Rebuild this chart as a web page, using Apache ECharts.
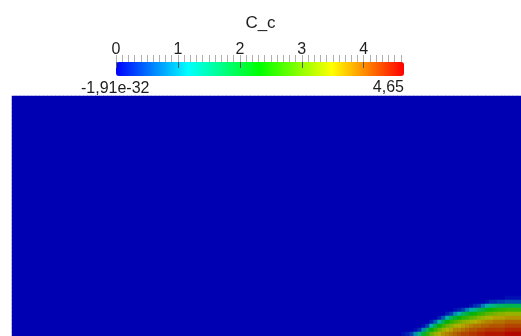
<!DOCTYPE html>
<html>
<head>
<meta charset="utf-8">
<script src="https://cdn.jsdelivr.net/npm/echarts@6/dist/echarts.min.js"></script>
<style>
html,body{margin:0;padding:0;background:#fff;}
#c{width:521px;height:336px;}
</style>
</head>
<body>
<div id="c"></div>
<script>
// ---- data ----
const colorbarTitle = 'C_c';
const rangeMin = -1.91e-32;
const rangeMax = 4.65;
const rangeLabels = ['-1,91e-32', '4,65'];
const majorTickStep = 1;
const lastMajorTick = 4;
const minorTickStep = 0.1;
const lastMinorTick = 4.6;
const colormap = ['#0000ff', '#00ffff', '#00ff00', '#ffff00', '#ff0000'];
const shadedColormap = ['#0000b3', '#00b3b3', '#00b300', '#b3b300', '#b30000'];
const fieldCols = 128;   // cells across the field
const fieldRows = 60;    // cells down the field
const plumeCol0 = 98;    // first column of the non-zero region
const plumeRow0 = 50;    // first row of the non-zero region
// C_c values in the bottom-right region (rows top->bottom, cols left->right); rest of field = 0
const plumeRows = [
  [0,0,0,0,0,0,0,0,0,0,0,0,0,0,0,0,0,0,0,0,0,0,0,0,0,0,0.1,0.1,0.1,0.1],
  [0,0,0,0,0,0,0,0,0,0,0,0,0,0,0,0,0,0,0,0,0,0.1,0.3,0.3,0.4,0.4,0.5,0.5,0.5,0.5],
  [0,0,0,0,0,0,0,0,0,0,0,0,0,0,0,0,0,0.1,0.3,0.4,0.8,1.1,1.4,1.5,1.7,1.7,1.8,1.8,1.8,1.8],
  [0,0,0,0,0,0,0,0,0,0,0,0,0,0.1,0.2,0.4,0.8,1.1,1.4,1.7,1.9,2.2,2.4,2.5,2.6,2.6,2.7,2.7,2.7,2.7],
  [0,0,0,0,0,0,0,0,0,0,0,0.2,0.4,0.9,1.2,1.7,1.9,2.2,2.4,2.6,2.7,2.9,3.0,3.1,3.2,3.2,3.3,3.3,3.3,3.3],
  [0,0,0,0,0,0,0,0,0,0.2,0.6,1.2,1.7,2.0,2.3,2.6,2.7,2.9,3.0,3.2,3.3,3.4,3.5,3.6,3.6,3.6,3.7,3.7,3.7,3.7],
  [0,0,0,0,0,0,0,0.2,0.6,1.2,1.8,2.3,2.6,2.8,3.0,3.2,3.3,3.4,3.5,3.6,3.7,3.8,3.8,3.9,3.9,3.9,4.0,4.0,4.0,4.0],
  [0,0,0,0,0,0.1,0.4,1.2,1.8,2.3,2.7,3.0,3.2,3.4,3.5,3.6,3.7,3.8,3.9,3.9,4.0,4.0,4.1,4.1,4.1,4.1,4.2,4.2,4.2,4.2],
  [0,0,0,0.1,0.3,0.9,1.7,2.3,2.7,3.0,3.3,3.5,3.6,3.8,3.8,3.9,4.0,4.1,4.1,4.2,4.2,4.3,4.3,4.3,4.3,4.3,4.4,4.4,4.4,4.4],
  [0.1,0.2,0.4,0.9,1.5,2.0,2.6,3.0,3.3,3.5,3.7,3.8,3.9,4.0,4.1,4.2,4.2,4.3,4.3,4.4,4.4,4.5,4.5,4.5,4.5,4.5,4.6,4.6,4.6,4.6]
];

// ---- build ----
const xCats = [], yCats = [];
for (let c = 0; c < fieldCols; c++) xCats.push(c);
for (let r = 0; r < fieldRows; r++) yCats.push(r);
const cells = [];
for (let r = 0; r < fieldRows; r++) {
  for (let c = 0; c < fieldCols; c++) {
    let v = 0;
    if (r >= plumeRow0 && c >= plumeCol0) v = plumeRows[r - plumeRow0][c - plumeCol0];
    cells.push([c, r, v]);
  }
}
const isMajor = v => Math.abs(v / majorTickStep - Math.round(v / majorTickStep)) < 1e-6;

const FONT = '"Liberation Sans", Arial, sans-serif';
const TXT = '#1e1e1e';
const BAR_LEFT = 116, BAR_TOP = 62, BAR_LEN = 288, BAR_H = 14;
const chart = echarts.init(document.getElementById('c'), null, {renderer: 'canvas'});
chart.setOption({
  animation: false,
  backgroundColor: '#ffffff',
  grid: [
    {left: 12, top: 96, width: 512, height: 240, show: true, backgroundColor: shadedColormap[0], borderWidth: 0, containLabel: false},
    {left: BAR_LEFT, top: BAR_TOP, width: BAR_LEN * lastMinorTick / rangeMax, height: BAR_H, show: false, containLabel: false},
    {left: BAR_LEFT, top: BAR_TOP, width: BAR_LEN * lastMajorTick / rangeMax, height: BAR_H, show: false, containLabel: false}
  ],
  xAxis: [
    {type: 'category', data: xCats, gridIndex: 0, show: false},
    {type: 'value', gridIndex: 1, min: 0, max: lastMinorTick, interval: minorTickStep, position: 'top',
      axisLine: {show: false, onZero: false}, splitLine: {show: false},
      axisTick: {show: true, length: 7, lineStyle: {color: '#b0b0b0', width: 1}},
      axisLabel: {show: true, interval: 0, margin: 4, fontSize: 16, color: TXT, fontFamily: FONT,
        showMinLabel: true, showMaxLabel: true,
        formatter: v => isMajor(v) ? String(Math.round(v)) : ''}},
    {type: 'value', gridIndex: 2, min: 0, max: lastMajorTick, interval: majorTickStep, position: 'top', z: 10,
      axisLine: {show: false, onZero: false}, splitLine: {show: false},
      axisTick: {show: true, inside: true, length: 6, lineStyle: {color: '#555', width: 1}},
      axisLabel: {show: false}}
  ],
  yAxis: [
    {type: 'category', data: yCats, gridIndex: 0, inverse: true, show: false},
    {type: 'value', gridIndex: 1, show: false, min: 0, max: 1},
    {type: 'value', gridIndex: 2, show: false, min: 0, max: 1}
  ],
  visualMap: [
    {type: 'continuous', show: false, min: rangeMin, max: rangeMax, seriesIndex: 0, dimension: 2,
      inRange: {color: shadedColormap}},
    {type: 'continuous', min: rangeMin, max: rangeMax, seriesIndex: 1, z: 4,
      orient: 'horizontal', left: BAR_LEFT, top: BAR_TOP, itemWidth: BAR_H, itemHeight: BAR_LEN,
      padding: 0, calculable: false, hoverLink: false, text: null,
      inRange: {color: colormap}}
  ],
  graphic: [
    {type: 'text', left: 'center', top: 15, z: 10, style: {text: colorbarTitle, font: '17px ' + FONT, fill: TXT}},
    {type: 'text', left: 81, top: 81, z: 10, style: {text: rangeLabels[0], font: '16px ' + FONT, fill: TXT}},
    {type: 'text', right: 117, top: 80, z: 10, style: {text: rangeLabels[1], font: '16px ' + FONT, fill: TXT}}
  ],
  series: [
    {type: 'heatmap', xAxisIndex: 0, yAxisIndex: 0, data: cells,
      progressive: 0, itemStyle: {borderWidth: 0}, emphasis: {disabled: true}},
    {type: 'scatter', xAxisIndex: 1, yAxisIndex: 1, data: [], silent: true}
  ]
});
</script>
</body>
</html>
